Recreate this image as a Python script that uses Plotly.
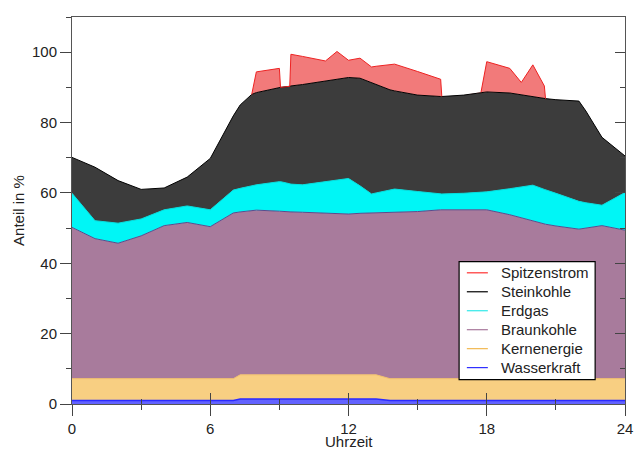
import numpy as np
import plotly.graph_objects as go

# hours of day
hours = [0, 1, 2, 3, 4, 5, 6, 7, 7.3, 7.8, 8, 9, 9.05, 9.45, 9.5, 10, 11, 11.5, 12, 12.5,
         13, 13.2, 13.8, 14, 15, 16, 16.05, 17, 17.75, 18, 19, 19.5, 20, 20.5, 20.55, 21, 22, 22.3, 23, 24]

# shares in % (stacked from bottom)
wasserkraft = [1.0] * 8 + [1.4] * 14 + [1.0] * 18
kernenergie = [6.2] * 8 + [6.9] * 14 + [6.2] * 18
braunkohle = [43.0, 39.8, 38.5, 40.6, 43.5, 44.4, 43.2, 47.1, 46.3, 46.7, 46.8, 46.5, 46.5, 46.4, 46.3, 46.2,
              46.0, 45.9, 45.7, 45.9, 46.0, 46.0, 47.1, 47.2, 47.5, 48.0, 48.0, 48.0, 48.0, 48.0, 46.6, 45.8,
              44.8, 44.0, 43.9, 43.4, 42.5, 42.8, 43.5, 42.2]
erdgas = [9.7, 5.1, 5.7, 4.8, 4.5, 4.7, 4.8, 6.5, 6.7, 7.0, 7.2, 8.4, 8.4, 7.9, 7.9, 7.8, 8.9, 9.4, 10.1, 7.8,
          5.4, 5.7, 6.5, 6.7, 5.7, 4.5, 4.5, 4.7, 4.9, 5.1, 7.4, 8.7, 10.2, 9.8, 9.8, 9.3, 7.9, 7.2, 5.8, 10.7]
steinkohle = [10.2, 15.2, 12.1, 8.4, 6.2, 8.2, 14.6, 21.1, 23.7, 26.0, 26.2, 26.8, 26.8, 27.7, 27.9, 28.5,
              28.7, 28.7, 28.7, 30.6, 31.6, 30.7, 28.5, 27.9, 27.4, 27.7, 27.7, 27.9, 28.5, 28.4, 27.2, 26.2,
              25.0, 25.8, 25.9, 26.6, 28.5, 26.1, 19.3, 10.4]
spitzenstrom = [0, 0, 0, 0, 0, 0, 0, 0, 0, 0, 5.9, 5.4, 0, 0, 9.0, 8.0, 5.6, 7.9, 4.9, 5.7,
                4.5, 5.3, 7.1, 7.6, 6.7, 4.9, 0, 0, 0, 8.6, 7.0, 3.5, 9.2, 3.6, 0, 0, 0, 0, 0, 0]

names = ["Spitzenstrom", "Steinkohle", "Erdgas", "Braunkohle", "Kernenergie", "Wasserkraft"]
x_ticks = [0, 6, 12, 18, 24]
y_ticks = [0, 20, 40, 60, 80, 100]

FONT = "Liberation Sans, Arial, Helvetica, sans-serif"

fig = go.Figure()

layers = [
    ("Wasserkraft", wasserkraft, "#6262ff", "#2a2aff", 1.5),
    ("Kernenergie", kernenergie, "#f8cf82", "#f2c06a", 1),
    ("Braunkohle", braunkohle, "#a87b9c", "#5c4a8c", 1),
    ("Erdgas", erdgas, "#00f6f6", "#00e0e0", 1),
    ("Steinkohle", steinkohle, "#3c3c3c", "#000000", 1),
    ("Spitzenstrom", spitzenstrom, "#f27a7a", "#f27a7a", 0),
]
for name, vals, fc, lc, lw in layers:
    fig.add_trace(go.Scatter(x=hours, y=vals, name=name, stackgroup="one", mode="lines",
                             fillcolor=fc, line=dict(color=lc, width=lw), showlegend=False,
                             hoverinfo="skip"))

# red outline only where Spitzenstrom exists
cum_top = np.array(wasserkraft) + np.array(kernenergie) + np.array(braunkohle) + np.array(erdgas) + np.array(steinkohle)
sp = np.array(spitzenstrom)
outline = []
for i in range(len(hours)):
    near = sp[i] > 0 or (i > 0 and sp[i - 1] > 0) or (i < len(hours) - 1 and sp[i + 1] > 0)
    outline.append(float(cum_top[i] + sp[i]) if near else None)
fig.add_trace(go.Scatter(x=hours, y=outline, mode="lines", line=dict(color="#ee2222", width=1),
                         connectgaps=False, showlegend=False, hoverinfo="skip"))

# secondary axes for inner tick marks (crossing look)
fig.add_trace(go.Scatter(x=[None], y=[None], xaxis="x2", yaxis="y2", showlegend=False))

# hand-drawn legend box (paper coordinates)
legend_colors = ["#ff3030", "#000000", "#30e8e8", "#a8789c", "#f2b850", "#3030ff"]
box = dict(x0=0.700, x1=0.946, y0=0.063, y1=0.368)
row_y = [0.339, 0.290, 0.241, 0.192, 0.143, 0.094]
shapes = [dict(type="rect", xref="paper", yref="paper", fillcolor="white",
               line=dict(color="black", width=1.2), layer="above", **box)]
annotations = []
for n, c, ry in zip(names, legend_colors, row_y):
    shapes.append(dict(type="line", xref="paper", yref="paper", x0=0.714, x1=0.752, y0=ry, y1=ry,
                       line=dict(color=c, width=1.2), layer="above"))
    annotations.append(dict(text=n, xref="paper", yref="paper", x=0.772, y=ry, xanchor="left",
                            yanchor="middle", showarrow=False,
                            font=dict(family=FONT, size=15, color="#222222")))

# x-axis title as annotation (sits just below the tick labels, bottom at the page edge)
annotations.append(dict(text="Uhrzeit", xref="paper", yref="paper", x=0.5, y=-0.1215,
                        xanchor="center", yanchor="bottom", showarrow=False, borderpad=0,
                        font=dict(family=FONT, size=15, color="#222222")))

fig.update_layout(
    width=637, height=452,
    margin=dict(l=72, r=12, t=17, b=47.5),
    paper_bgcolor="white", plot_bgcolor="white",
    font=dict(family=FONT, size=15, color="#222222"),
    showlegend=False,
    shapes=shapes, annotations=annotations,
    xaxis=dict(range=[0, 24], tickvals=x_ticks, ticktext=[str(v) for v in x_ticks],
               ticks="outside", ticklen=11, tickwidth=1, tickcolor="#444",
               minor=dict(dtick=3, ticks="outside", ticklen=5, tickcolor="#444", tick0=0),
               showline=True, linecolor="#555", linewidth=1, mirror=True,
               showgrid=False, zeroline=False, automargin=False,
               tickfont=dict(size=15)),
    yaxis=dict(range=[0, 110], tickvals=y_ticks, ticks="outside", ticklen=11, tickwidth=1, tickcolor="#444",
               minor=dict(dtick=10, ticks="outside", ticklen=5, tickcolor="#444", tick0=0),
               showline=True, linecolor="#555", linewidth=1, mirror=True,
               showgrid=False, zeroline=False, automargin=False,
               title=dict(text="Anteil in %", standoff=3, font=dict(size=15)),
               tickfont=dict(size=15)),
    xaxis2=dict(range=[0, 24], overlaying="x", side="bottom", anchor="y", tickvals=x_ticks,
                showticklabels=False, ticks="inside", ticklen=11, tickcolor="#444",
                minor=dict(dtick=3, ticks="inside", ticklen=5, tickcolor="#444", tick0=0),
                showgrid=False, zeroline=False, showline=False, automargin=False),
    yaxis2=dict(range=[0, 110], overlaying="y", side="right", anchor="x", tickvals=y_ticks,
                showticklabels=False, ticks="inside", ticklen=10, tickcolor="#444",
                minor=dict(dtick=10, ticks="inside", ticklen=5, tickcolor="#444", tick0=0),
                showgrid=False, zeroline=False, showline=False, automargin=False),
)

fig.write_html("out.html", config={"displayModeBar": False},
               post_script="document.body.style.margin='0';")
